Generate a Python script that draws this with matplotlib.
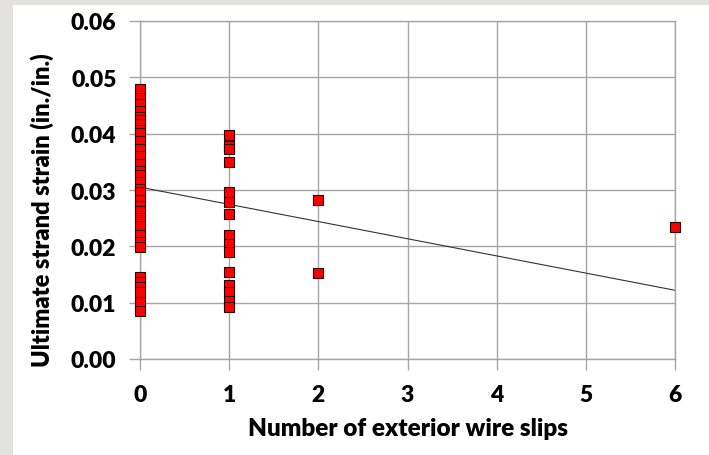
import matplotlib
matplotlib.use("Agg")
import matplotlib.pyplot as plt
from matplotlib.patches import Rectangle

# ---- data ----
slips_0 = [0.0479, 0.0463, 0.0453, 0.0440, 0.0430, 0.0424, 0.0417, 0.0407, 0.0401,
           0.0387, 0.0373, 0.0360, 0.0346, 0.0334, 0.0327, 0.0314, 0.0302, 0.0296,
           0.0282, 0.0272, 0.0263, 0.0250, 0.0236, 0.0220, 0.0208, 0.0199,
           0.0146, 0.0137, 0.0128, 0.0119, 0.0101, 0.0085]
slips_1 = [0.0398, 0.0378, 0.0373, 0.0350, 0.0296, 0.0279, 0.0257, 0.0220,
           0.0204, 0.0190, 0.0154, 0.0131, 0.0119, 0.0103, 0.0092]
slips_2 = [0.0282, 0.0153]
slips_6 = [0.0234]
x_groups = [0, 1, 2, 6]
y_groups = [slips_0, slips_1, slips_2, slips_6]

trend_x = [0, 6]
trend_y = [0.0305, 0.0122]

x_ticks = [0, 1, 2, 3, 4, 5, 6]
y_ticks = [0.00, 0.01, 0.02, 0.03, 0.04, 0.05, 0.06]
y_ticklabels = ["0.00", "0.01", "0.02", "0.03", "0.04", "0.05", "0.06"]

W, H = 709, 456
fig = plt.figure(figsize=(W / 100, H / 100), dpi=100, facecolor="#e4e2de")
fig.patches.append(Rectangle((13 / W, 0), 1 - 13 / W, 1 - 6 / H,
                             transform=fig.transFigure, facecolor="white",
                             edgecolor="none", zorder=-10))

ax = fig.add_axes([140 / W, 1 - 360 / H, (675 - 140) / W, (360 - 22) / H])
ax.set_zorder(5)
ax.set_facecolor("white")
ax.set_xlim(0, 6)
ax.set_ylim(0, 0.06)

grid_c = "#a6a6a6"
ax.set_xticks(x_ticks)
ax.set_yticks(y_ticks)
ax.set_yticklabels(y_ticklabels)
ax.grid(True, color=grid_c, linewidth=1.0)
ax.set_axisbelow(True)
for s in ax.spines.values():
    s.set_color(grid_c)
    s.set_linewidth(1.0)
ax.tick_params(axis="both", direction="out", length=8, width=1.0, color=grid_c,
               labelsize=16.5)
ax.tick_params(axis="y", pad=9)
ax.tick_params(axis="x", pad=10)

font = "Lato"
weight = "heavy"
for lab in ax.get_xticklabels() + ax.get_yticklabels():
    lab.set_fontfamily(font)
    lab.set_fontweight(weight)

ax.plot(trend_x, trend_y, color="#333333", linewidth=0.8, zorder=2)

for xv, ys in zip(x_groups, y_groups):
    ax.plot([xv] * len(ys), ys, linestyle="none", marker="s", markersize=7.2,
            markerfacecolor="#ff0000", markeredgecolor="#2a0000",
            markeredgewidth=0.8, zorder=3, clip_on=False)

ax.set_xlabel("Number of exterior wire slips", fontsize=17.5, fontweight=weight,
              fontfamily=font, labelpad=9)
ax.set_ylabel("Ultimate strand strain (in./in.)", fontsize=17, fontweight=weight,
              fontfamily=font)
ax.yaxis.set_label_coords(-(140 - 54) / (675 - 140), (360 - 210) / (360 - 22))

fig.savefig("out.png", dpi=100, facecolor=fig.get_facecolor())
